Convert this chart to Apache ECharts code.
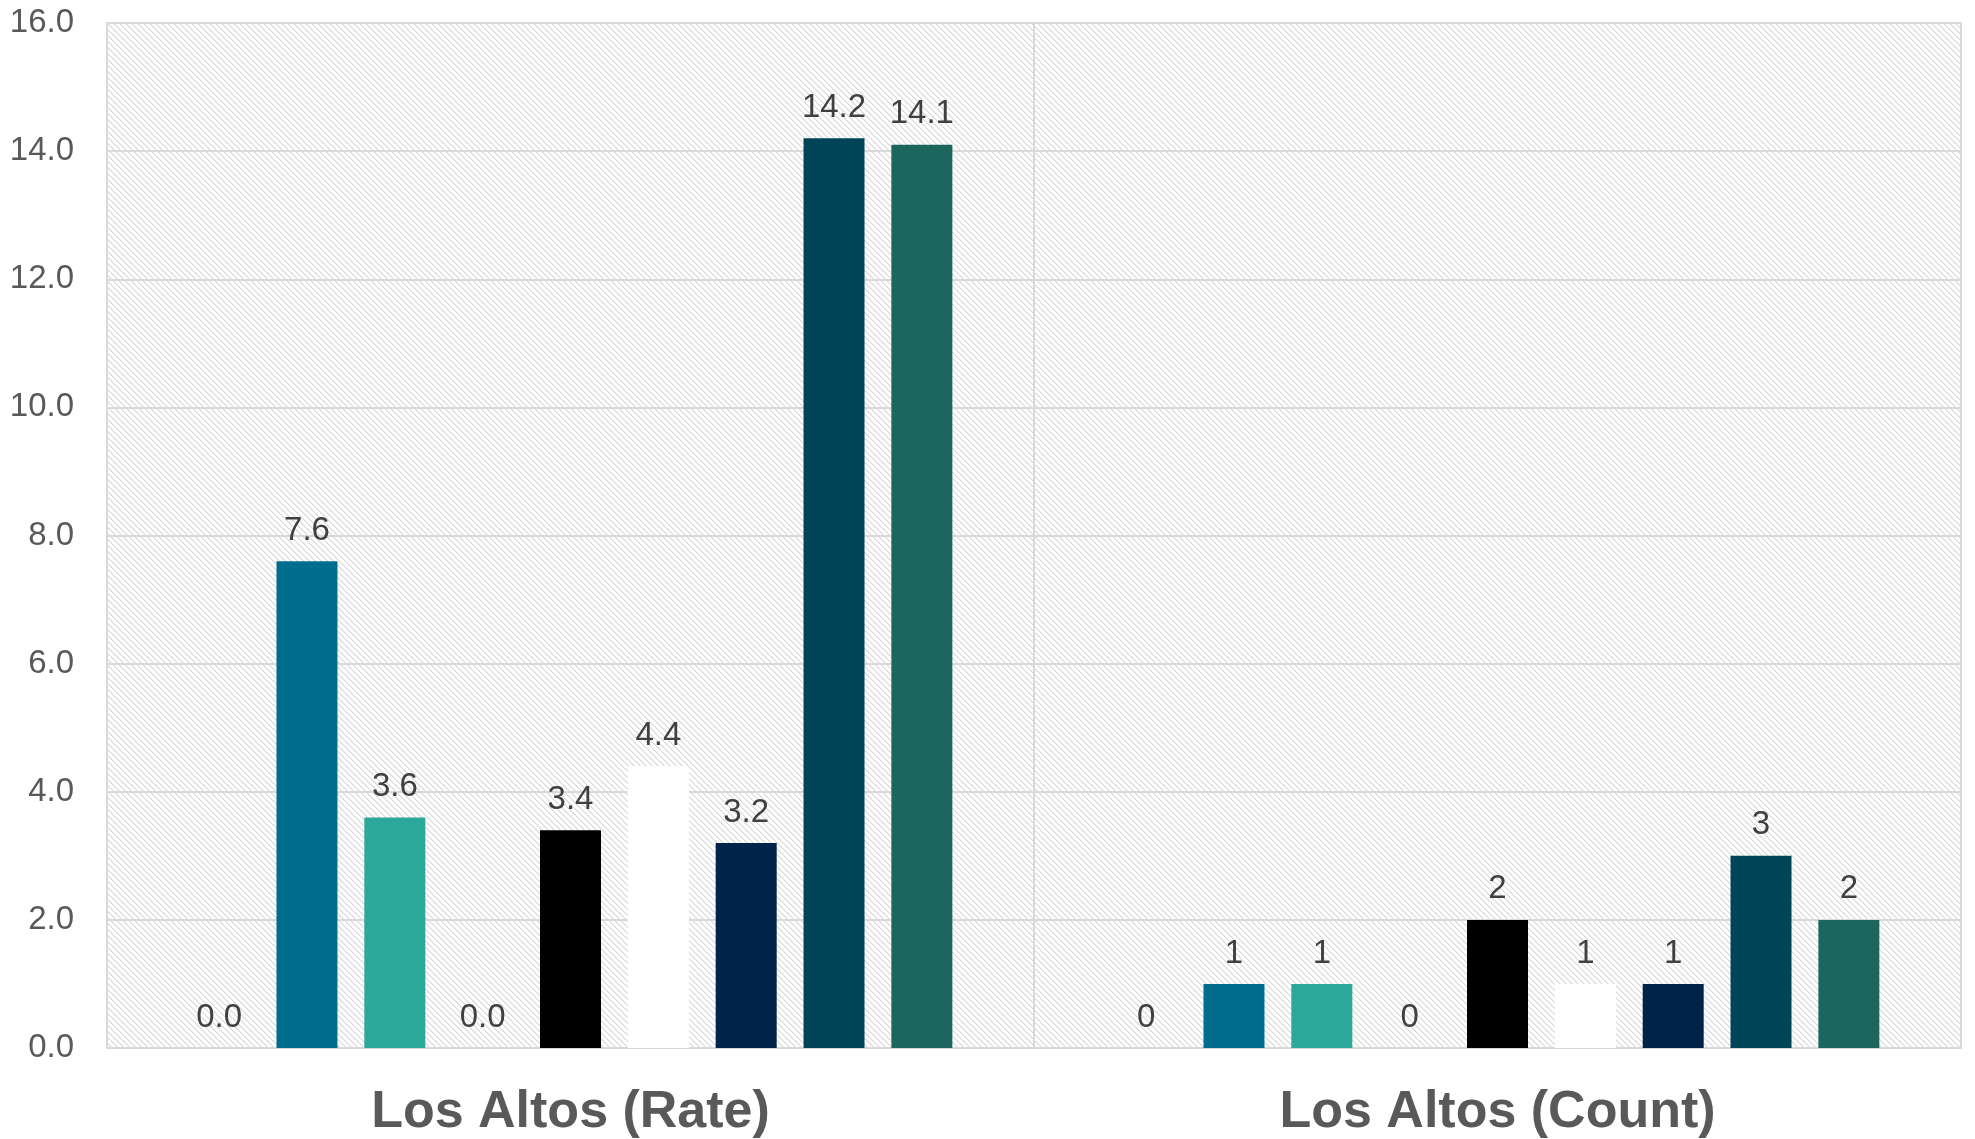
<!DOCTYPE html>
<html>
<head>
<meta charset="utf-8">
<script src="https://cdn.jsdelivr.net/npm/echarts@6/dist/echarts.min.js"></script>
<style>
  html, body { margin: 0; padding: 0; background: #ffffff; }
  #chart { width: 1975px; height: 1139px; }
</style>
</head>
<body>
<div id="chart"></div>
<script>
const categories = ['Los Altos (Rate)', 'Los Altos (Count)'];
const yTicks = [0, 2, 4, 6, 8, 10, 12, 14, 16];
const seriesNames = ['S1', 'S2', 'S3', 'S4', 'S5', 'S6', 'S7', 'S8', 'S9'];
const rateValues = [0.0, 7.6, 3.6, 0.0, 3.4, 4.4, 3.2, 14.2, 14.1];
const countValues = [0, 1, 1, 0, 2, 1, 1, 3, 2];
const seriesColors = ['#7F7F7F', '#006D8F', '#2BA89A', '#7F7F7F', '#000000', '#FFFFFF', '#00234A', '#004457', '#1C665E'];

// hatch pattern tile
const tile = document.createElement('canvas');
const N = 6;
tile.width = N; tile.height = N;
const tctx = tile.getContext('2d');
tctx.fillStyle = '#ffffff';
tctx.fillRect(0, 0, N, N);
for (let i = 0; i < N; i++) {
  tctx.fillStyle = '#D6D6D6';
  tctx.fillRect(i, i, 1, 1);
  tctx.fillStyle = '#EDEDED';
  tctx.fillRect((i + 1) % N, i, 1, 1);
}

const chart = echarts.init(document.getElementById('chart'), null, { renderer: 'canvas' });

const series = seriesNames.map((name, s) => ({
  name: name,
  type: 'bar',
  barWidth: 61,
  barGap: '44%',
  data: [rateValues[s], countValues[s]],
  itemStyle: { color: seriesColors[s] },
  label: {
    show: true,
    position: 'top',
    distance: 14,
    fontFamily: 'Liberation Sans, Arial, sans-serif',
    fontSize: 33,
    color: '#404040',
    formatter: p => p.dataIndex === 0 ? Number(p.value).toFixed(1) : String(p.value)
  }
}));

chart.setOption({
  backgroundColor: '#ffffff',
  animation: false,
  grid: {
    left: 107, right: 14, top: 23, bottom: 91,
    show: true,
    backgroundColor: { image: tile, repeat: 'repeat' },
    borderColor: '#D9D9D9',
    borderWidth: 2
  },
  xAxis: {
    type: 'category',
    data: categories,
    axisLine: { show: true, lineStyle: { color: '#D9D9D9', width: 2 } },
    axisTick: { show: false },
    splitLine: { show: true, lineStyle: { color: '#D9D9D9', width: 2 } },
    axisLabel: {
      margin: 39,
      fontFamily: 'Liberation Sans, Arial, sans-serif',
      fontSize: 52,
      fontWeight: 'bold',
      color: '#595959'
    }
  },
  yAxis: {
    type: 'value',
    min: yTicks[0],
    max: yTicks[yTicks.length - 1],
    interval: yTicks[1] - yTicks[0],
    axisLine: { show: false },
    axisTick: { show: false },
    splitLine: { show: true, lineStyle: { color: '#D9D9D9', width: 2 } },
    axisLabel: {
      margin: 33,
      fontFamily: 'Liberation Sans, Arial, sans-serif',
      fontSize: 33,
      color: '#595959',
      formatter: v => v.toFixed(1)
    }
  },
  series: series
});
</script>
</body>
</html>
